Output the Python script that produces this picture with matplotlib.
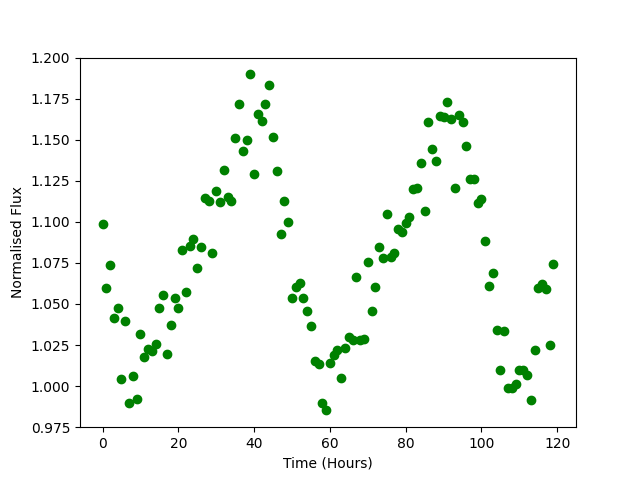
import matplotlib
matplotlib.use("Agg")
import matplotlib.pyplot as plt

hours = [0, 1, 2, 3, 4, 5, 6, 7, 8, 9,
         10, 11, 12, 13, 14, 15, 16, 17, 18, 19,
         20, 21, 22, 23, 24, 25, 26, 27, 28, 29,
         30, 31, 32, 33, 34, 35, 36, 37, 38, 39,
         40, 41, 42, 43, 44, 45, 46, 47, 48, 49,
         50, 51, 52, 53, 54, 55, 56, 57, 58, 59,
         60, 61, 62, 63, 64, 65, 66, 67, 68, 69,
         70, 71, 72, 73, 74, 75, 76, 77, 78, 79,
         80, 81, 82, 83, 84, 85, 86, 87, 88, 89,
         90, 91, 92, 93, 94, 95, 96, 97, 98, 99,
         100, 101, 102, 103, 104, 105, 106, 107, 108, 109,
         110, 111, 112, 113, 114, 115, 116, 117, 118, 119]

flux = [1.0985, 1.0596, 1.0736, 1.0415, 1.0474, 1.0042, 1.0395, 0.9896, 1.0062, 0.9920,
        1.0316, 1.0177, 1.0224, 1.0216, 1.0255, 1.0474, 1.0557, 1.0196, 1.0370, 1.0535,
        1.0474, 1.0829, 1.0571, 1.0853, 1.0894, 1.0717, 1.0845, 1.1143, 1.1129, 1.0809,
        1.1186, 1.1119, 1.1314, 1.1153, 1.1127, 1.1509, 1.1716, 1.1431, 1.1498, 1.1898,
        1.1290, 1.1657, 1.1612, 1.1718, 1.1831, 1.1515, 1.1308, 1.0924, 1.1125, 1.0997,
        1.0535, 1.0605, 1.0626, 1.0535, 1.0456, 1.0364, 1.0151, 1.0137, 0.9897, 0.9853,
        1.0139, 1.0190, 1.0220, 1.0048, 1.0230, 1.0297, 1.0281, 1.0663, 1.0281, 1.0289,
        1.0754, 1.0456, 1.0602, 1.0845, 1.0778, 1.1046, 1.0784, 1.0809, 1.0955, 1.0940,
        1.0991, 1.1031, 1.1198, 1.1204, 1.1357, 1.1064, 1.1606, 1.1442, 1.1371, 1.1643,
        1.1637, 1.1728, 1.1624, 1.1204, 1.1651, 1.1606, 1.1460, 1.1259, 1.1259, 1.1113,
        1.1137, 1.0882, 1.0608, 1.0687, 1.0340, 1.0096, 1.0334, 0.9987, 0.9987, 1.0013,
        1.0096, 1.0096, 1.0068, 0.9914, 1.0218, 1.0596, 1.0624, 1.0589, 1.0249, 1.0742]

fig, ax = plt.subplots(figsize=(6.4, 4.8), dpi=100)
ax.plot(hours, flux, 'go')
ax.set_ylim(0.975, 1.2)
ax.set_xlabel("Time (Hours)")
ax.set_ylabel("Normalised Flux")
fig.savefig("out.png", dpi=100)
